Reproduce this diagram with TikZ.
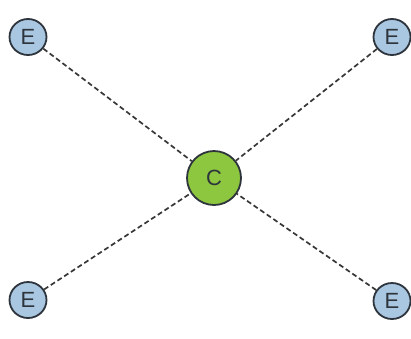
\documentclass[tikz,border=0pt]{standalone}
\usepackage{fontspec}
\setmainfont{Liberation Sans}
\usetikzlibrary{shapes.geometric}
\definecolor{edgeblue}{RGB}{170,199,226}
\definecolor{centergreen}{RGB}{141,198,63}
\definecolor{rimgray}{RGB}{45,52,60}
\definecolor{linkgray}{RGB}{55,55,55}
\begin{document}
\begin{tikzpicture}[x=1pt,y=-1pt,
  endpoint/.style={ellipse, draw=rimgray, line width=1.8pt, fill=edgeblue,
    minimum width=37pt, minimum height=36pt, inner sep=0pt,
    font=\fontsize{22}{22}\selectfont, text=rimgray},
  hub/.style={circle, draw=rimgray, line width=1.8pt, fill=centergreen,
    minimum size=54pt, inner sep=0pt,
    font=\fontsize{22}{22}\selectfont, text=rimgray},
  link/.style={draw=linkgray, line width=1.7pt, dash pattern=on 5pt off 3pt}]
\useasboundingbox (0,0) rectangle (411,338);
\node[hub] (c) at (214,178) {C};
\node[endpoint] (tl) at (28,37) {E};
\node[endpoint] (tr) at (392,37) {E};
\node[endpoint] (bl) at (28,300) {E};
\node[endpoint] (br) at (392,301) {E};
\draw[link] (tl) -- (c);
\draw[link] (tr) -- (c);
\draw[link] (bl) -- (c);
\draw[link] (br) -- (c);
\end{tikzpicture}
\end{document}
